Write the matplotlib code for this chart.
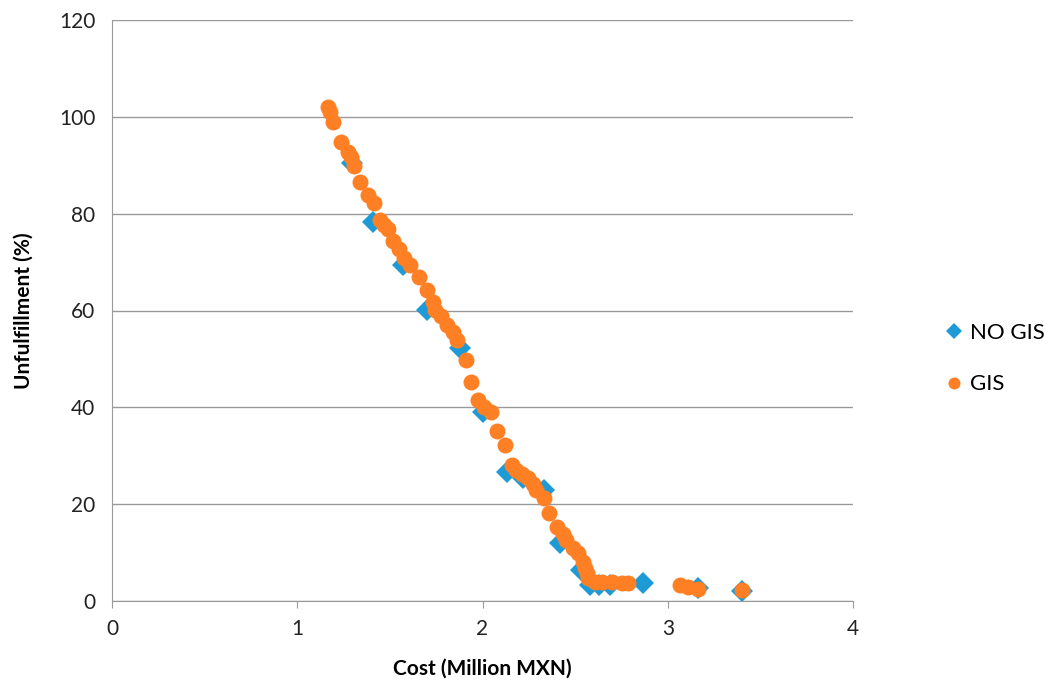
import matplotlib.pyplot as plt

plt.rcParams['font.family'] = ['Lato', 'DejaVu Sans']

# NO GIS series (blue diamonds)
no_gis_cost = [1.296, 1.41, 1.57, 1.70, 1.88, 2.0, 2.13, 2.22, 2.33, 2.42, 2.53,
               2.58, 2.63, 2.69, 2.866, 3.163, 3.40]
no_gis_unf = [90.5, 78.3, 69.4, 60.1, 52.3, 39.0, 26.6, 25.5, 22.9, 12.0, 6.4,
              3.3, 3.3, 3.3, 3.7, 2.7, 2.1]

# GIS series (orange circles)
gis_cost = [1.166, 1.177, 1.193, 1.236, 1.274, 1.29, 1.307, 1.34, 1.382, 1.414,
            1.447, 1.47, 1.49, 1.517, 1.55, 1.576, 1.61, 1.657, 1.70, 1.735,
            1.745, 1.777, 1.81, 1.84, 1.862, 1.91, 1.938, 1.976, 2.008, 2.046,
            2.08, 2.12, 2.16, 2.18, 2.213, 2.246, 2.273, 2.29, 2.33, 2.36,
            2.40, 2.437, 2.45, 2.49, 2.515, 2.543, 2.553, 2.564, 2.57, 2.607,
            2.645, 2.70, 2.753, 2.785, 3.066, 3.11, 3.163, 3.40]
gis_unf = [102.0, 101.0, 98.9, 94.8, 92.7, 91.7, 89.8, 86.5, 83.8, 82.2,
           78.7, 77.7, 76.8, 74.3, 72.7, 70.8, 69.4, 66.9, 64.2, 61.8,
           60.1, 58.9, 57.0, 55.6, 53.9, 49.8, 45.2, 41.5, 40.1, 39.0,
           35.1, 32.2, 28.1, 27.1, 26.2, 25.4, 24.2, 22.9, 21.3, 18.2,
           15.3, 13.8, 12.6, 10.9, 9.9, 8.1, 6.8, 5.8, 4.75, 3.9,
           3.9, 3.9, 3.7, 3.7, 3.3, 2.9, 2.5, 2.3]

fig = plt.figure(figsize=(10.44, 6.9), dpi=100)
ax = fig.add_axes([0.1073, 0.129, 0.7098, 0.842])

ax.plot(no_gis_cost, no_gis_unf, linestyle='none', marker='D', markersize=11,
        color='#1E9BD7', markeredgewidth=0, label='NO GIS')
ax.plot(gis_cost, gis_unf, linestyle='none', marker='o', markersize=11.5,
        color='#FF7F24', markeredgewidth=0, label='GIS')

ax.set_xlim(0, 4)
ax.set_ylim(0, 120)
ax.set_xticks([0, 1, 2, 3, 4])
ax.set_yticks(range(0, 121, 20))
ax.yaxis.grid(True, color='#999999', linewidth=1)
ax.set_axisbelow(True)
for s in ['top', 'right']:
    ax.spines[s].set_visible(False)
for s in ['left', 'bottom']:
    ax.spines[s].set_color('#999999')
ax.tick_params(axis='both', labelsize=15, length=0, pad=12, colors='#222222')
ax.tick_params(axis='x', length=5, direction='out', color='#999999', pad=8)

ax.set_xlabel('Cost (Million MXN)', fontsize=15, fontweight='bold', labelpad=14)
ax.set_ylabel('Unfulfillment (%)', fontsize=15, fontweight='bold', labelpad=18)

fig.legend(loc='center left', bbox_to_anchor=(0.882, 0.48), frameon=False,
           fontsize=16, labelspacing=1.4, handletextpad=0.1, markerscale=0.75,
           handlelength=1.2)

fig.savefig('out.png', dpi=100)
